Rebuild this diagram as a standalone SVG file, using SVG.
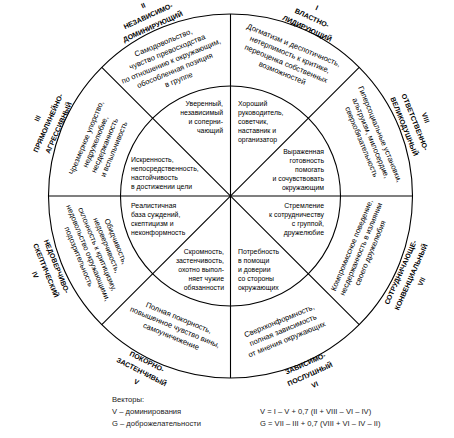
<svg xmlns="http://www.w3.org/2000/svg" width="454" height="438" viewBox="0 0 454 438">
<style>
.ln{fill:none;stroke:#000;stroke-width:1.1}
.in{font-family:"Liberation Sans",Arial,sans-serif;font-size:6.9px;fill:#000}
.rg{font-family:"Liberation Sans",Arial,sans-serif;font-size:7.6px;fill:#000;text-anchor:middle}
.lb{font-family:"Liberation Sans",Arial,sans-serif;font-size:7px;font-weight:bold;fill:#000;text-anchor:middle}
.r{text-anchor:end}
.bt{font-family:"Liberation Sans",Arial,sans-serif;font-size:7.6px;fill:#222}
</style>
<rect width="454" height="438" fill="#fff"/>
<g id="connectors">
<circle class="ln" cx="230.5" cy="196" r="182"/>
<circle class="ln" cx="230.5" cy="196" r="110"/>
<line class="ln" x1="230.5" y1="14" x2="230.5" y2="378"/>
<line class="ln" x1="48.5" y1="196" x2="412.5" y2="196"/>
<line class="ln" x1="101.8" y1="67.3" x2="359.2" y2="324.7"/>
<line class="ln" x1="359.2" y1="67.3" x2="101.8" y2="324.7"/>
</g>
<g id="sector-I">
<g transform="translate(312,18) rotate(25)"><text class="lb" y="-9">I</text><text class="lb" y="2.5">ВЛАСТНО-</text><text class="lb" y="14">ЛИДИРУЮЩИЙ</text></g>
<g transform="translate(288,59) rotate(22.5)"><text class="rg" y="-12.4">Догматизм и деспотичность,</text><text class="rg" y="-2.4">нетерпимость к критике,</text><text class="rg" y="7.6">переоценка собственных</text><text class="rg" y="17.6">возможностей</text></g>
<text class="in" x="238" y="105.5">Хороший</text><text class="in" x="238" y="114.5">руководитель,</text><text class="in" x="238" y="123.5">советчик,</text><text class="in" x="238" y="132.5">наставник и</text><text class="in" x="238" y="141.5">организатор</text>
</g>
<g id="sector-II">
<g transform="translate(148,16) rotate(-24.5)"><text class="lb" y="-9">II</text><text class="lb" y="2.5">НЕЗАВИСИМО-</text><text class="lb" y="14">ДОМИНИРУЮЩИЙ</text></g>
<g transform="translate(171,61) rotate(-22.5)"><text class="rg" y="-17.4">Самодовольство,</text><text class="rg" y="-7.4">чувство превосходства</text><text class="rg" y="2.6">по отношению к окружающим,</text><text class="rg" y="12.6">обособленная позиция</text><text class="rg" y="22.6">в группе</text></g>
<g class="in r"><text x="223" y="105.5">Уверенный,</text><text x="223" y="114.5">независимый</text><text x="223" y="123.5">и соперни-</text><text x="223" y="132.5">чающий</text></g>
</g>
<g id="sector-III">
<g transform="translate(48,123) rotate(-66)"><text class="lb" y="-9">III</text><text class="lb" y="2.5">ПРЯМОЛИНЕЙНО-</text><text class="lb" y="14">АГРЕССИВНЫЙ</text></g>
<g transform="translate(100,143.5) rotate(-67.5)"><text class="rg" y="-12.4">Чрезмерное упорство,</text><text class="rg" y="-2.4">недружелюбие,</text><text class="rg" y="7.6">несдержанность</text><text class="rg" y="17.6">и вспыльчивость</text></g>
<text class="in" x="131" y="162">Искренность,</text><text class="in" x="131" y="171">непосредственность,</text><text class="in" x="131" y="180">настойчивость</text><text class="in" x="131" y="189">в достижении цели</text>
</g>
<g id="sector-IV">
<g transform="translate(46,270.5) rotate(68)"><text class="lb" y="-9">НЕДОВЕРЧИВО-</text><text class="lb" y="2.5">СКЕПТИЧЕСКИЙ</text><text class="lb" y="14">IV</text></g>
<g transform="translate(97.5,249) rotate(67.5)"><text class="rg" y="-17.4">Обидчивость,</text><text class="rg" y="-7.4">недоверчивость,</text><text class="rg" y="2.6">склонность к критицизму,</text><text class="rg" y="12.6">недовольство окружающими,</text><text class="rg" y="22.6">подозрительность</text></g>
<text class="in" x="131" y="207.5">Реалистичная</text><text class="in" x="131" y="216.5">база суждений,</text><text class="in" x="131" y="225.5">скептицизм и</text><text class="in" x="131" y="234.5">неконформность</text>
</g>
<g id="sector-V">
<g transform="translate(141.7,371.7) rotate(27)"><text class="lb" y="-9">ПОКОРНО-</text><text class="lb" y="2.5">ЗАСТЕНЧИВЫЙ</text><text class="lb" y="14">V</text></g>
<g transform="translate(175,327) rotate(22.5)"><text class="rg" y="-7.4">Полная покорность,</text><text class="rg" y="2.6">повышенное чувство вины,</text><text class="rg" y="12.6">самоуничижение</text></g>
<g class="in r"><text x="224" y="253.5">Скромность,</text><text x="224" y="262.5">застенчивость,</text><text x="224" y="271.5">охотно выпол-</text><text x="224" y="280.5">няет чужие</text><text x="224" y="289.5">обязанности</text></g>
</g>
<g id="sector-VI">
<g transform="translate(310,374) rotate(-24)"><text class="lb" y="-9">ЗАВИСИМО-</text><text class="lb" y="2.5">ПОСЛУШНЫЙ</text><text class="lb" y="14">VI</text></g>
<g transform="translate(283,330) rotate(-22.5)"><text class="rg" y="-7.4">Сверхконформность,</text><text class="rg" y="2.6">полная зависимость</text><text class="rg" y="12.6">от мнения окружающих</text></g>
<text class="in" x="238" y="253.5">Потребность</text><text class="in" x="238" y="262.5">в помощи</text><text class="in" x="238" y="271.5">и доверии</text><text class="in" x="238" y="280.5">со стороны</text><text class="in" x="238" y="289.5">окружающих</text>
</g>
<g id="sector-VII">
<g transform="translate(411,277) rotate(-66)"><text class="lb" y="-9">СОТРУДНИЧАЮЩЕ-</text><text class="lb" y="2.5">КОНВЕНЦИАЛЬНЫЙ</text><text class="lb" y="14">VII</text></g>
<g transform="translate(361,249) rotate(-67.5)"><text class="rg" y="-7.4">Компромиссное поведение,</text><text class="rg" y="2.6">несдержанность в излиянии</text><text class="rg" y="12.6">своего дружелюбия</text></g>
<g class="in r"><text x="324" y="207.5">Стремление</text><text x="324" y="216.5">к сотрудничеству</text><text x="324" y="225.5">с группой,</text><text x="324" y="234.5">дружелюбие</text></g>
</g>
<g id="sector-VIII">
<g transform="translate(415,122) rotate(68)"><text class="lb" y="-9">VIII</text><text class="lb" y="2.5">ОТВЕТСТВЕННО-</text><text class="lb" y="14">ВЕЛИКОДУШНЫЙ</text></g>
<g transform="translate(371,138) rotate(67.5)"><text class="rg" y="-7.4">Гиперсоциальные установки,</text><text class="rg" y="2.6">альтруизм, милосердие,</text><text class="rg" y="12.6">сверхобязательность</text></g>
<g class="in r"><text x="324" y="153.5">Выраженная</text><text x="324" y="162.5">готовность</text><text x="324" y="171.5">помогать</text><text x="324" y="180.5">и сочувствовать</text><text x="324" y="189.5">окружающим</text></g>
</g>
<g id="legend">
<text class="bt" x="112" y="401.5">Векторы:</text>
<text class="bt" x="112" y="414">V – доминирования</text>
<text class="bt" x="112" y="425.5">G – доброжелательности</text>
<text class="bt" x="260" y="414">V = I – V + 0,7 (II + VIII – VI – IV)</text>
<text class="bt" x="260" y="425.5">G = VII – III + 0,7 (VIII + VI – IV – II)</text>
</g>
</svg>
